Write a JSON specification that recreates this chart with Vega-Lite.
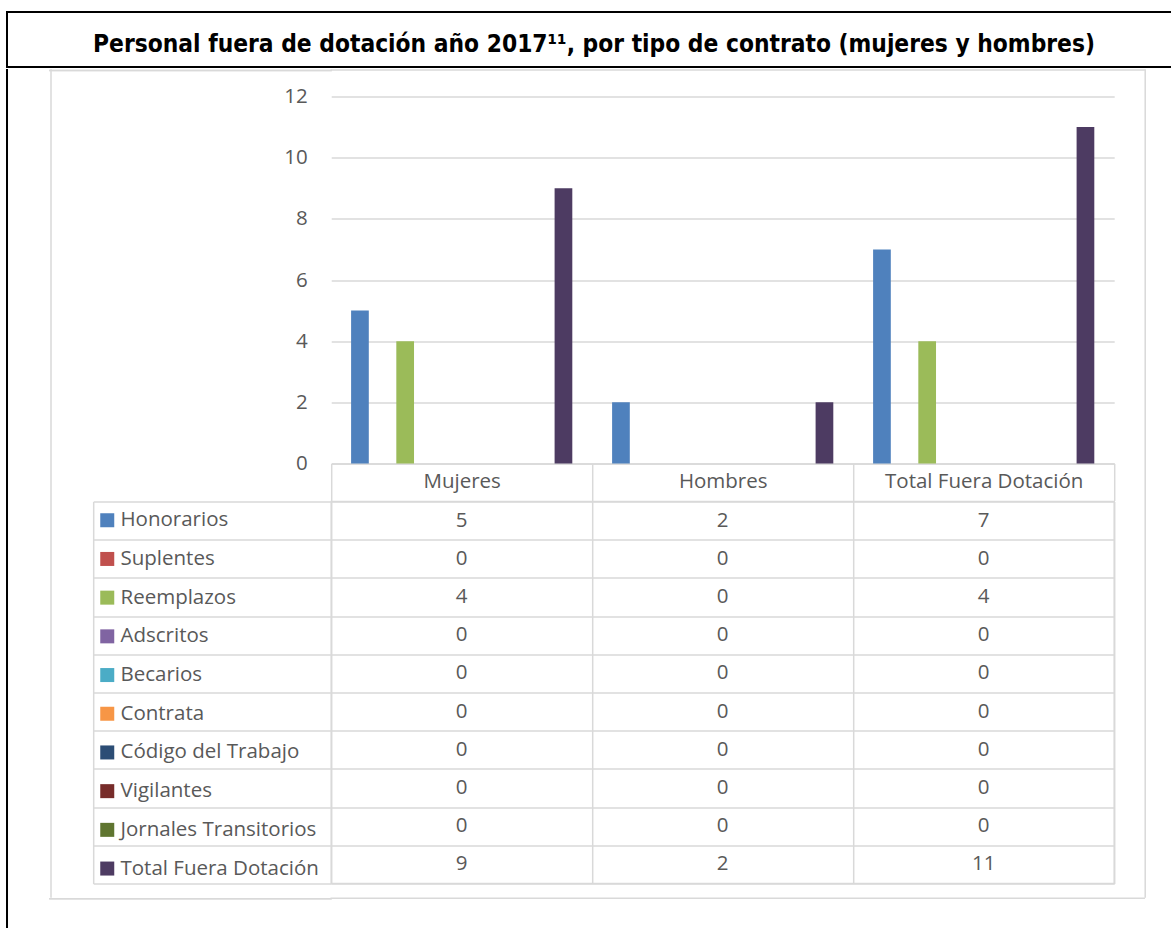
{
  "$schema": "https://vega.github.io/schema/vega-lite/v6.json",
  "padding": {"left": 6, "top": 11, "right": 0, "bottom": 0},
  "background": "white",
  "config": {
    "view": {"stroke": null},
    "font": "Open Sans",
    "axis": {"labelFont": "Open Sans", "labelColor": "#595959", "title": null}
  },
  "datasets": {
    "d": [
      {"grupo": "Mujeres", "tipo": "Honorarios", "valor": 5},
      {"grupo": "Mujeres", "tipo": "Suplentes", "valor": 0},
      {"grupo": "Mujeres", "tipo": "Reemplazos", "valor": 4},
      {"grupo": "Mujeres", "tipo": "Adscritos", "valor": 0},
      {"grupo": "Mujeres", "tipo": "Becarios", "valor": 0},
      {"grupo": "Mujeres", "tipo": "Contrata", "valor": 0},
      {"grupo": "Mujeres", "tipo": "Código del Trabajo", "valor": 0},
      {"grupo": "Mujeres", "tipo": "Vigilantes", "valor": 0},
      {"grupo": "Mujeres", "tipo": "Jornales Transitorios", "valor": 0},
      {"grupo": "Mujeres", "tipo": "Total Fuera Dotación", "valor": 9},
      {"grupo": "Hombres", "tipo": "Honorarios", "valor": 2},
      {"grupo": "Hombres", "tipo": "Suplentes", "valor": 0},
      {"grupo": "Hombres", "tipo": "Reemplazos", "valor": 0},
      {"grupo": "Hombres", "tipo": "Adscritos", "valor": 0},
      {"grupo": "Hombres", "tipo": "Becarios", "valor": 0},
      {"grupo": "Hombres", "tipo": "Contrata", "valor": 0},
      {"grupo": "Hombres", "tipo": "Código del Trabajo", "valor": 0},
      {"grupo": "Hombres", "tipo": "Vigilantes", "valor": 0},
      {"grupo": "Hombres", "tipo": "Jornales Transitorios", "valor": 0},
      {"grupo": "Hombres", "tipo": "Total Fuera Dotación", "valor": 2},
      {"grupo": "Total Fuera Dotación", "tipo": "Honorarios", "valor": 7},
      {"grupo": "Total Fuera Dotación", "tipo": "Suplentes", "valor": 0},
      {"grupo": "Total Fuera Dotación", "tipo": "Reemplazos", "valor": 4},
      {"grupo": "Total Fuera Dotación", "tipo": "Adscritos", "valor": 0},
      {"grupo": "Total Fuera Dotación", "tipo": "Becarios", "valor": 0},
      {"grupo": "Total Fuera Dotación", "tipo": "Contrata", "valor": 0},
      {"grupo": "Total Fuera Dotación", "tipo": "Código del Trabajo", "valor": 0},
      {"grupo": "Total Fuera Dotación", "tipo": "Vigilantes", "valor": 0},
      {"grupo": "Total Fuera Dotación", "tipo": "Jornales Transitorios", "valor": 0},
      {"grupo": "Total Fuera Dotación", "tipo": "Total Fuera Dotación", "valor": 11}
    ],
    "t": [{"titulo": "Personal fuera de dotación año 2017¹¹, por tipo de contrato (mujeres y hombres)"}],
    "vacio": []
  },
  "spacing": 0,
  "vconcat": [
    {
      "width": 1174, "height": 55,
      "view": {"stroke": "#000000", "strokeWidth": 2},
      "data": {"name": "t"},
      "mark": {"type": "text", "font": "'Liberation Sans Narrow', 'DejaVu Sans Condensed', 'Roboto Condensed', sans-serif", "fontWeight": "bold", "fontSize": 24.3, "color": "#000000", "baseline": "middle", "dy": 5},
      "encoding": {"text": {"field": "titulo", "type": "nominal"}}
    },
    {
      "spacing": 38,
      "hconcat": [
        {"width": 0.01, "height": 870, "view": {"stroke": "#000000", "strokeWidth": 2}, "data": {"name": "vacio"}, "mark": "rect", "encoding": {}},
        {
          "spacing": -4.8,
          "hconcat": [
            {"width": 0.01, "height": 827, "view": {"stroke": "#d9d9d9", "strokeWidth": 1.5}, "data": {"name": "vacio"}, "mark": "rect", "encoding": {}},
            {
              "spacing": 14.5,
              "vconcat": [
                {
                  "width": 813, "height": 0.01,
                  "view": {"stroke": "#d9d9d9", "strokeWidth": 1.5},
                  "data": {"name": "t"},
                  "mark": {"type": "point", "opacity": 0, "size": 0},
                  "encoding": {
                    "y": {"field": "titulo", "type": "nominal", "scale": {"type": "band", "paddingInner": 0, "paddingOuter": 0},
                      "axis": {"title": null, "labels": false, "domain": false, "grid": false, "ticks": true, "tickSize": 282.5, "tickBand": "extent", "tickColor": "#d9d9d9", "tickWidth": 1.5}}
                  }
                },
                {
                  "spacing": 10.7,
                  "vconcat": [
                    {
                      "spacing": -3,
                      "vconcat": [
                        {
                          "width": 783, "height": 367,
                          "data": {"name": "d"},
                          "mark": {"type": "bar"},
                          "encoding": {
                            "x": {"field": "grupo", "type": "nominal", "sort": ["Mujeres", "Hombres", "Total Fuera Dotación"],
                              "scale": {"paddingInner": 0, "paddingOuter": 0},
                              "axis": {"title": null, "labelAngle": 0, "labelFontSize": 20.5, "labelColor": "#595959", "labelBaseline": "alphabetic", "labelPadding": -13, "tickBand": "extent", "tickSize": 37, "tickColor": "#d9d9d9", "tickWidth": 1.5, "domainColor": "#d9d9d9", "domainWidth": 1.5, "grid": false, "labelLimit": 300}},
                            "xOffset": {"field": "tipo", "type": "nominal",
                              "sort": ["Honorarios", "Suplentes", "Reemplazos", "Adscritos", "Becarios", "Contrata", "Código del Trabajo", "Vigilantes", "Jornales Transitorios", "Total Fuera Dotación"],
                              "scale": {"paddingInner": 0.217, "paddingOuter": 0.88}},
                            "y": {"field": "valor", "type": "quantitative", "scale": {"domain": [0, 12], "nice": false},
                              "axis": {"title": null, "values": [0, 2, 4, 6, 8, 10, 12], "grid": true, "gridColor": "#d9d9d9", "gridWidth": 1.5, "domain": false, "ticks": false, "labelFontSize": 20.5, "labelColor": "#595959", "labelPadding": 24, "minExtent": 279.3}},
                            "color": {"field": "tipo", "type": "nominal",
                              "scale": {
                                "domain": ["Honorarios", "Suplentes", "Reemplazos", "Adscritos", "Becarios", "Contrata", "Código del Trabajo", "Vigilantes", "Jornales Transitorios", "Total Fuera Dotación"],
                                "range": ["#4F81BD", "#C0504D", "#9BBB59", "#8064A2", "#4BACC6", "#F79646", "#2C4D75", "#772C2A", "#5F7530", "#4D3B62"]
                              },
                              "legend": {"orient": "none", "legendX": 90, "legendY": 498, "title": null, "direction": "vertical", "columns": 1, "symbolType": "square", "symbolSize": 196, "symbolStrokeWidth": 0, "symbolOpacity": 1, "labelFontSize": 20.5, "labelColor": "#595959", "labelFont": "Open Sans", "labelOffset": 3, "rowPadding": 17.7, "labelLimit": 400, "padding": 0}}
                          }
                        },
                        {
                          "width": 783, "height": 382,
                          "view": {"stroke": "#d9d9d9", "strokeWidth": 1.5},
                          "data": {"name": "d"},
                          "mark": {"type": "text", "fontSize": 20.5, "color": "#595959", "font": "Open Sans", "baseline": "middle"},
                          "encoding": {
                            "x": {"field": "grupo", "type": "nominal", "sort": ["Mujeres", "Hombres", "Total Fuera Dotación"],
                              "scale": {"type": "band", "paddingInner": 0, "paddingOuter": 0},
                              "axis": {"title": null, "labels": false, "ticks": false, "domain": false, "grid": true, "tickBand": "extent", "gridColor": "#d9d9d9", "gridWidth": 1.5}},
                            "y": {"field": "tipo", "type": "nominal",
                              "sort": ["Honorarios", "Suplentes", "Reemplazos", "Adscritos", "Becarios", "Contrata", "Código del Trabajo", "Vigilantes", "Jornales Transitorios", "Total Fuera Dotación"],
                              "scale": {"type": "band", "paddingInner": 0, "paddingOuter": 0},
                              "axis": {"title": null, "labels": false, "ticks": true, "tickSize": -238, "tickBand": "extent", "tickColor": "#d9d9d9", "tickWidth": 1.5, "offset": 238, "domain": true, "domainColor": "#d9d9d9", "domainWidth": 1.5, "grid": true, "gridColor": "#d9d9d9", "gridWidth": 1.5}},
                            "text": {"field": "valor", "type": "quantitative"}
                          }
                        }
                      ]
                    },
                    {
                      "width": 813, "height": 0.01,
                      "view": {"stroke": "#d9d9d9", "strokeWidth": 1.5},
                      "data": {"name": "t"},
                      "mark": {"type": "point", "opacity": 0, "size": 0},
                      "encoding": {
                        "y": {"field": "titulo", "type": "nominal", "scale": {"type": "band", "paddingInner": 0, "paddingOuter": 0},
                          "axis": {"title": null, "labels": false, "domain": false, "grid": false, "ticks": true, "tickSize": 282.5, "tickBand": "extent", "tickColor": "#d9d9d9", "tickWidth": 1.5}}
                      }
                    }
                  ]
                }
              ]
            },
            {"width": 0.01, "height": 827, "view": {"stroke": "#d9d9d9", "strokeWidth": 1.5}, "data": {"name": "vacio"}, "mark": "rect", "encoding": {}}
          ]
        }
      ]
    }
  ]
}
